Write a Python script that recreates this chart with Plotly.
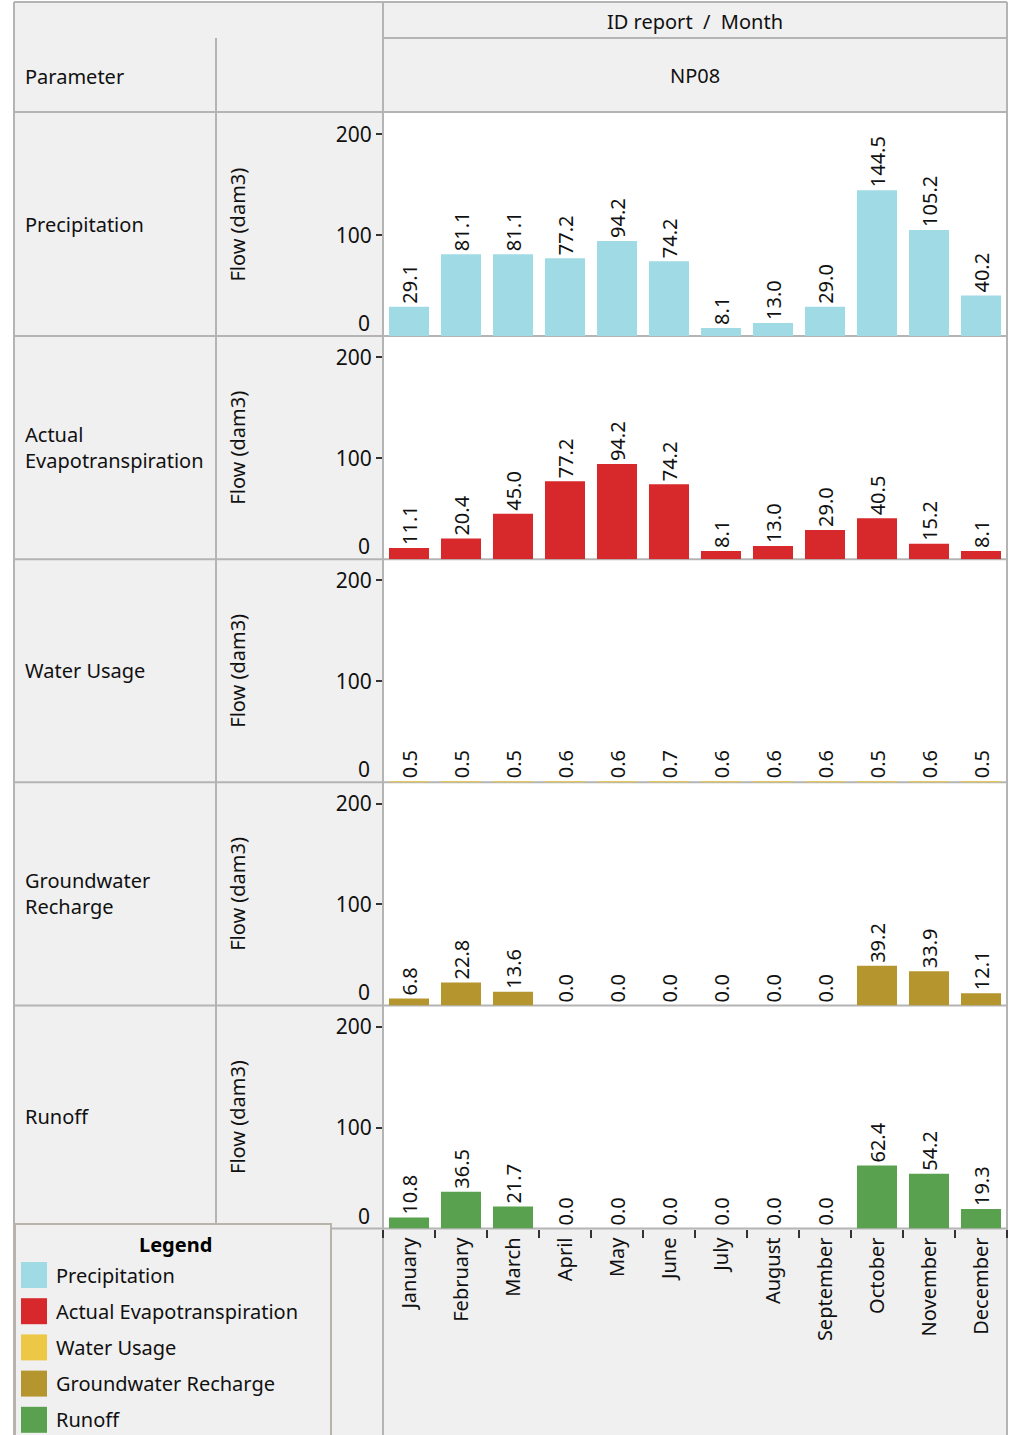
import plotly.graph_objects as go

months = ["January", "February", "March", "April", "May", "June", "July",
          "August", "September", "October", "November", "December"]

params = ["Precipitation", "Actual Evapotranspiration", "Water Usage",
          "Groundwater Recharge", "Runoff"]
row_labels = ["Precipitation", "Actual<br>Evapotranspiration", "Water Usage",
              "Groundwater<br>Recharge", "Runoff"]
colors = ["#9fdae5", "#d7282b", "#ecc846", "#b5962e", "#59a14f"]

precipitation = [29.1, 81.1, 81.1, 77.2, 94.2, 74.2, 8.1, 13.0, 29.0, 144.5, 105.2, 40.2]
evapotranspiration = [11.1, 20.4, 45.0, 77.2, 94.2, 74.2, 8.1, 13.0, 29.0, 40.5, 15.2, 8.1]
water_usage = [0.5, 0.5, 0.5, 0.6, 0.6, 0.7, 0.6, 0.6, 0.6, 0.5, 0.6, 0.5]
recharge = [6.8, 22.8, 13.6, 0.0, 0.0, 0.0, 0.0, 0.0, 0.0, 39.2, 33.9, 12.1]
runoff = [10.8, 36.5, 21.7, 0.0, 0.0, 0.0, 0.0, 0.0, 0.0, 62.4, 54.2, 19.3]
series = [precipitation, evapotranspiration, water_usage, recharge, runoff]

W, H = 1017, 1435
FONT = "Noto Sans"
TXT = "#111111"
GRID = "#b4b4b4"


def fx(x):
    return x / W


def fy(y):
    return 1 - y / H


top0, ph = 113, 223.1
plot_l, plot_r = 383, 1007

fig = go.Figure()
shapes = []
annotations = []

# backgrounds
shapes.append(dict(type="rect", xref="paper", yref="paper", x0=fx(14), x1=fx(1007),
                   y0=fy(1440), y1=fy(2), fillcolor="#f0f0f0", line_width=0, layer="below"))
shapes.append(dict(type="rect", xref="paper", yref="paper", x0=fx(plot_l), x1=fx(plot_r),
                   y0=fy(top0 + 5 * ph), y1=fy(top0), fillcolor="white", line_width=0, layer="below"))


def hline(y, x0, x1, color=GRID, w=2):
    shapes.append(dict(type="line", xref="paper", yref="paper", x0=fx(x0), x1=fx(x1),
                       y0=fy(y), y1=fy(y), line=dict(color=color, width=w), layer="below"))


def vline(x, y0, y1, color=GRID, w=2):
    shapes.append(dict(type="line", xref="paper", yref="paper", x0=fx(x), x1=fx(x),
                       y0=fy(y0), y1=fy(y1), line=dict(color=color, width=w), layer="below"))


# table lines
hline(2, 14, 1007)
hline(38, plot_l, 1007)
hline(112, 14, 1007)
for i in range(1, 6):
    hline(top0 + i * ph, 14, 1007)
vline(14, 2, 1440)
vline(1007, 2, 1440)
vline(216, 38, 1224)
vline(plot_l, 2, 1440)

for i, (p, vals) in enumerate(zip(params, series)):
    n = i + 1
    xa = "x" if n == 1 else f"x{n}"
    ya = "y" if n == 1 else f"y{n}"
    fig.add_trace(go.Bar(
        x=months, y=vals, name=p, marker_color=colors[i], marker_line_width=0,
        texttemplate="%{y:.1f}", textposition="outside", textangle=-90,
        constraintext="none",
        textfont=dict(family=FONT, size=20, color=TXT), cliponaxis=False,
        xaxis=xa, yaxis=ya, showlegend=False))
    y_top = top0 + i * ph
    y_bot = y_top + ph
    last = n == 5
    fig.layout[f"xaxis{'' if n == 1 else n}"] = dict(
        domain=[fx(plot_l), fx(plot_r)], anchor=ya, type="category",
        categoryorder="array", categoryarray=months,
        showgrid=False, zeroline=False, showline=False,
        ticks="outside" if last else "", tickson="boundaries", ticklen=8, tickwidth=2,
        tickcolor="#333", showticklabels=last, tickangle=-90, ticklabelstandoff=4,
        tickfont=dict(family=FONT, size=20, color=TXT))
    fig.layout[f"yaxis{'' if n == 1 else n}"] = dict(
        domain=[fy(y_bot), fy(y_top)], anchor=xa, range=[0, 221],
        showgrid=False, zeroline=False, showline=False,
        tickvals=[100, 200], ticks="outside", ticklen=6, tickwidth=2, tickcolor="#333",
        tickfont=dict(family=FONT, size=21, color=TXT))
    annotations.append(dict(xref="paper", yref=ya, x=fx(372), y=0, yshift=-3, text="0",
                            xanchor="right", yanchor="bottom", showarrow=False,
                            font=dict(family=FONT, size=21, color=TXT)))
    annotations.append(dict(xref="paper", yref="paper", x=fx(23), y=fy((y_top + y_bot) / 2),
                            text=row_labels[i], xanchor="left", yanchor="middle", align="left",
                            showarrow=False, font=dict(family=FONT, size=20, color=TXT)))
    annotations.append(dict(xref="paper", yref="paper", x=fx(238), y=fy((y_top + y_bot) / 2),
                            text="Flow (dam3)", textangle=-90, xanchor="center", yanchor="middle",
                            showarrow=False, font=dict(family=FONT, size=20, color=TXT)))

# headers
annotations.append(dict(xref="paper", yref="paper", x=fx(695), y=fy(21), text="ID report  /  Month",
                        xanchor="center", yanchor="middle", showarrow=False,
                        font=dict(family=FONT, size=20, color=TXT)))
annotations.append(dict(xref="paper", yref="paper", x=fx(695), y=fy(75), text="NP08",
                        xanchor="center", yanchor="middle", showarrow=False,
                        font=dict(family=FONT, size=20, color=TXT)))
annotations.append(dict(xref="paper", yref="paper", x=fx(23), y=fy(76), text="Parameter",
                        xanchor="left", yanchor="middle", showarrow=False,
                        font=dict(family=FONT, size=20, color=TXT)))

# legend box
shapes.append(dict(type="rect", xref="paper", yref="paper", x0=fx(15), x1=fx(331),
                   y0=fy(1445), y1=fy(1224), fillcolor="#f0f0f0",
                   line=dict(color="#b8b4aa", width=2), layer="below"))
annotations.append(dict(xref="paper", yref="paper", x=fx(175), y=fy(1244), text="<b>Legend</b>",
                        xanchor="center", yanchor="middle", showarrow=False,
                        font=dict(family=FONT, size=20, color="#000")))
for i, p in enumerate(params):
    yc = 1275 + i * 36.2
    shapes.append(dict(type="rect", xref="paper", yref="paper", x0=fx(21), x1=fx(47),
                       y0=fy(yc + 13), y1=fy(yc - 13), fillcolor=colors[i], line_width=0,
                       layer="above"))
    annotations.append(dict(xref="paper", yref="paper", x=fx(54), y=fy(yc), text=p,
                            xanchor="left", yanchor="middle", showarrow=False,
                            font=dict(family=FONT, size=20, color=TXT)))

fig.update_layout(
    width=W, height=H, margin=dict(l=0, r=0, t=0, b=0),
    paper_bgcolor="white", plot_bgcolor="rgba(0,0,0,0)",
    bargap=0.23, showlegend=False,
    shapes=shapes, annotations=annotations,
    font=dict(family=FONT, size=20, color=TXT),
)

fig.write_html("out.html", config={"displayModeBar": False},
               post_script="document.body.style.margin='0';")
